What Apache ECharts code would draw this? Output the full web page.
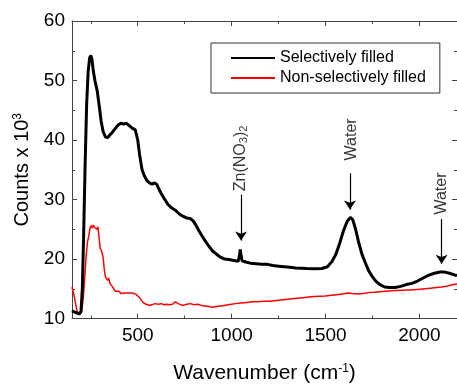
<!DOCTYPE html>
<html>
<head>
<meta charset="utf-8">
<style>
  html, body { margin: 0; padding: 0; background: #ffffff; }
  #chart { width: 457px; height: 389px; }
</style>
<script src="https://cdn.jsdelivr.net/npm/echarts@6/dist/echarts.min.js"></script>
</head>
<body>
<div id="chart"></div>
<script>
// Raman spectra: counts (x 10^3) versus wavenumber (cm^-1)
const selectiveWavenumber = [150,160,170,180,190,198,205,212,220,228,236,244,250,256,264,272,284,296,305,315,328,340,350,365,380,395,410,425,440,455,470,487,500,510,523,535,549,562,576,590,602,612,625,640,660,680,700,720,740,760,780,795,810,825,840,860,880,900,920,940,962,985,1005,1020,1035,1042,1046,1050,1056,1075,1100,1130,1160,1190,1220,1250,1280,1310,1340,1370,1400,1440,1480,1510,1535,1555,1575,1595,1615,1632,1645,1660,1678,1695,1714,1730,1750,1770,1790,1815,1840,1870,1900,1930,1960,1990,2020,2050,2080,2110,2135,2160,2190,2200];
const selectiveCounts = [11.3,11.1,11.0,10.8,10.8,11.2,15,24,36,46,51.5,53.8,54.2,53.6,51.5,50,48.3,45.5,43.2,41.5,40.5,40.4,40.8,41.3,41.9,42.5,42.8,42.7,42.8,42.4,42.0,41.7,40,37.5,35,34,33.2,32.8,32.6,32.8,32.5,31.8,31.0,30.2,29.2,28.6,28.2,27.6,27.2,26.9,26.8,26.4,25.7,24.8,24.0,23.0,22.1,21.3,20.8,20.3,20.0,19.9,19.8,19.7,19.6,20.6,21.6,20.6,19.7,19.5,19.3,19.2,19.1,19.1,18.9,18.8,18.7,18.6,18.5,18.45,18.4,18.35,18.4,18.7,19.6,20.8,22.6,24.7,26.3,27.0,26.6,25.0,22.6,20.7,19.2,18.0,17.0,16.2,15.7,15.3,15.2,15.2,15.4,15.7,15.9,16.3,16.8,17.3,17.6,17.8,17.8,17.6,17.3,17.2];

const nonSelectiveWavenumber = [150,155,160,165,172,178,185,192,198,204,210,218,225,232,240,246,252,258,264,270,276,282,288,294,300,308,316,322,328,334,340,346,352,358,364,372,380,390,400,410,420,430,440,450,460,470,480,490,500,510,520,532,545,560,576,590,600,612,625,640,655,670,685,700,708,716,730,742,760,780,800,820,840,860,880,900,920,940,960,980,1000,1020,1050,1080,1110,1140,1170,1200,1230,1260,1290,1320,1350,1380,1410,1440,1470,1500,1530,1560,1590,1620,1640,1670,1700,1730,1760,1790,1820,1850,1880,1910,1940,1970,2000,2030,2060,2090,2120,2150,2180,2200];
const nonSelectiveCounts = [15.3,14.6,14.0,13.2,12.0,11.1,10.6,10.4,10.9,11.8,13.4,17,20.4,22.8,24.0,25.2,25.6,25.2,25.7,25.3,25.6,25.0,25.4,23.6,21.8,21.3,20.2,18.2,17.0,17.2,16.4,16.8,15.9,15.6,15.4,15.0,14.6,14.3,14.6,14.2,14.5,14.3,14.6,14.3,14.4,14.3,14.0,14.1,13.9,13.5,13.0,12.6,12.4,12.2,12.3,12.5,12.6,12.4,12.5,12.3,12.4,12.3,12.4,12.8,12.9,12.5,12.3,12.2,12.4,12.5,12.3,12.4,12.2,12.1,12.0,11.9,12.0,12.1,12.2,12.3,12.4,12.5,12.6,12.7,12.8,12.8,12.9,12.9,13.0,13.1,13.2,13.3,13.4,13.5,13.6,13.7,13.75,13.8,13.9,14.0,14.1,14.3,14.2,14.1,14.2,14.35,14.4,14.5,14.6,14.65,14.7,14.75,14.8,14.85,14.9,15.0,15.1,15.2,15.3,15.45,15.7,15.8];

// Peak annotations: arrow from [x, yStart] down to [x, yEnd], label centred at [x, labelY]
const peakNames = ['{t|Zn(NO}{s|3}{t|)}{s|2}', '{t|Water}', '{t|Water}'];
const peakX = [1050, 1630, 2118];
const arrowStart = [30.8, 34.4, 26.7];
const arrowEnd = [23.1, 28.3, 19.2];
const labelX = [1050, 1638, 2118];
const labelY = [36.9, 40.1, 31.0];

const majorX = [500, 1000, 1500, 2000];
const minorX = [250, 750, 1250, 1750];

const FONT = 'Liberation Sans, Arial, sans-serif';
const AXIS_COLOR = '#444';
const TEXT_COLOR = '#000';

function xAxisDef(position, ticks, len, showLabel, showLine) {
  return {
    type: 'value', position: position, min: 150, max: 2200,
    axisLine: { show: showLine, onZero: false, lineStyle: { color: AXIS_COLOR, width: 1 } },
    axisTick: { show: true, inside: true, length: len, customValues: ticks, lineStyle: { color: AXIS_COLOR } },
    axisLabel: {
      show: showLabel, customValues: ticks, margin: 8, color: TEXT_COLOR, fontSize: 19, fontFamily: FONT,
      formatter: v => String(v)
    },
    splitLine: { show: false }
  };
}
function yAxisDef(position, showLabel) {
  return {
    type: 'value', position: position, min: 10, max: 60, interval: 10,
    axisLine: { show: true, onZero: false, lineStyle: { color: AXIS_COLOR, width: 1 } },
    axisTick: { show: true, inside: true, length: 5, lineStyle: { color: AXIS_COLOR } },
    minorTick: { show: true, splitNumber: 2, length: 3, lineStyle: { color: AXIS_COLOR } },
    axisLabel: { show: showLabel, margin: 7, color: TEXT_COLOR, fontSize: 19, fontFamily: FONT },
    splitLine: { show: false }
  };
}

const bottomAxis = xAxisDef('bottom', majorX, 5, true, true);
bottomAxis.name = 'Wavenumber (cm{sup|-1})';
bottomAxis.nameLocation = 'middle';
bottomAxis.nameGap = 44;
bottomAxis.nameTextStyle = {
  color: TEXT_COLOR, fontSize: 21, fontFamily: FONT,
  rich: { sup: { fontSize: 12, verticalAlign: 'top', color: TEXT_COLOR, fontFamily: FONT, padding: [0, 0, 10, 0] } }
};

const leftAxis = yAxisDef('left', true);
leftAxis.name = 'Counts x 10{sup|3}';
leftAxis.nameLocation = 'middle';
leftAxis.nameGap = 38;
leftAxis.nameTextStyle = {
  color: TEXT_COLOR, fontSize: 20, fontFamily: FONT,
  rich: { sup: { fontSize: 12, verticalAlign: 'top', color: TEXT_COLOR, fontFamily: FONT, padding: [0, 0, 10, 0] } }
};

const arrowLines = peakX.map((x, i) => [{ coord: [x, arrowStart[i]] }, { coord: [x, arrowEnd[i]] }]);
const labelPoints = labelX.map((x, i) => [x, labelY[i], peakNames[i]]);

const option = {
  animation: false,
  backgroundColor: '#ffffff',
  grid: { left: 72, top: 21, width: 387, height: 301, containLabel: false },
  xAxis: [
    bottomAxis,
    xAxisDef('bottom', minorX, 3, false, false),
    xAxisDef('top', majorX, 5, false, true),
    xAxisDef('top', minorX, 3, false, false)
  ],
  yAxis: [leftAxis, yAxisDef('right', false)],
  legend: {
    data: ['Selectively filled', 'Non-selectively filled'],
    orient: 'vertical', left: 211, top: 43,
    padding: [7, 14, 7, 19],
    itemWidth: 44, itemHeight: 14, itemGap: 4,
    borderColor: '#333', borderWidth: 1, backgroundColor: '#fff',
    itemStyle: { opacity: 0 },
    textStyle: { color: TEXT_COLOR, fontSize: 16, fontFamily: FONT, lineHeight: 16 }
  },
  series: [
    {
      name: 'Selectively filled', type: 'line', xAxisIndex: 0, yAxisIndex: 0,
      data: selectiveWavenumber.map((x, i) => [x, selectiveCounts[i]]),
      symbol: 'none', lineStyle: { color: '#000', width: 3 }, itemStyle: { color: '#000' },
      z: 3
    },
    {
      name: 'Non-selectively filled', type: 'line', xAxisIndex: 0, yAxisIndex: 0,
      data: nonSelectiveWavenumber.map((x, i) => [x, nonSelectiveCounts[i]]),
      symbol: 'none', lineStyle: { color: '#ff0000', width: 1.5 }, itemStyle: { color: '#ff0000' },
      z: 2
    },
    {
      name: 'peaks', type: 'scatter', xAxisIndex: 0, yAxisIndex: 0,
      data: labelPoints, symbolSize: 0, silent: true, z: 4,
      label: {
        show: true, position: 'inside', rotate: 90,
        formatter: p => p.data[2],
        rich: {
          t: { fontSize: 16, color: TEXT_COLOR, fontFamily: FONT },
          s: { fontSize: 11, color: TEXT_COLOR, fontFamily: FONT, verticalAlign: 'bottom', padding: [6, 0, 0, 0] }
        }
      },
      // arrows pointing down to each assigned peak
      markLine: {
        silent: true, symbol: ['none', 'arrow'], symbolSize: 9,
        itemStyle: { color: '#000', opacity: 1 },
        lineStyle: { color: '#000', width: 1.2, type: 'solid', opacity: 1 },
        label: { show: false },
        emphasis: { disabled: true },
        data: arrowLines
      }
    }
  ]
};

const chart = echarts.init(document.getElementById('chart'), null, { renderer: 'canvas' });
chart.setOption(option);
</script>
</body>
</html>
